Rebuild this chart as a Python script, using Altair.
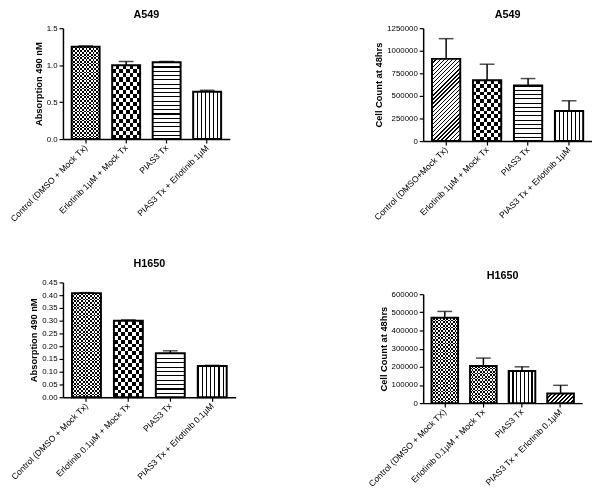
import altair as alt
import pandas as pd

# ---------------- data ----------------
a549_abs_labels = ["Control (DMSO + Mock Tx)", "Erlotinib 1µM + Mock Tx", "PIAS3 Tx", "PIAS3 Tx + Erlotinib 1µM"]
a549_abs_values = [1.25, 1.00, 1.04, 0.64]
a549_abs_errors = [0.01, 0.05, 0.01, 0.02]

a549_cnt_labels = ["Control (DMSO+Mock Tx)", "Erlotinib 1µM + Mock Tx", "PIAS3 Tx", "PIAS3 Tx + Erlotinib 1µM"]
a549_cnt_values = [910000, 674000, 616000, 334000]
a549_cnt_errors = [224000, 177000, 76000, 112000]

h1650_abs_labels = ["Control (DMSO + Mock Tx)", "Erlotinib 0.1µM + Mock Tx", "PIAS3 Tx", "PIAS3 Tx + Erlotinib 0.1µM"]
h1650_abs_values = [0.408, 0.300, 0.172, 0.122]
h1650_abs_errors = [0.002, 0.003, 0.010, 0.003]

h1650_cnt_labels = ["Control (DMSO + Mock TX)", "Erlotinib 0.1µM + Mock Tx", "PIAS3 Tx", "PIAS3 Tx + Erlotinib 0.1µM"]
h1650_cnt_values = [470000, 205000, 177000, 53000]
h1650_cnt_errors = [35000, 43000, 23000, 45000]

FONT = "Liberation Sans"
P_INNER = 0.31
P_OUTER = 0.215


def stripe_stops(n, frac, c_line, c_bg):
    stops = []
    for i in range(n):
        a = round(i / n, 5)
        b = round((i + frac) / n, 5)
        c = round((i + 1) / n, 5)
        stops += [{"offset": a, "color": c_line}, {"offset": b, "color": c_line},
                  {"offset": b, "color": c_bg}, {"offset": c, "color": c_bg}]
    return stops


def grad(stops, x2, y2):
    return {"gradient": "linear", "x1": 0, "y1": 0, "x2": x2, "y2": y2, "stops": stops}


def panel(title, ytitle, labels, values, errors, patterns, ymax, ystep, fmt, W, H, toff):
    df = pd.DataFrame({"label": labels, "value": values, "err": errors})
    df["upper"] = df["value"] + df["err"]
    step = W / (4 - P_INNER + 2 * P_OUTER)
    bw = step * (1 - P_INNER)
    xenc = alt.X("label:N", sort=labels, title=None,
                 scale=alt.Scale(paddingInner=P_INNER, paddingOuter=P_OUTER),
                 axis=alt.Axis(labelAngle=-45, labelAlign="right", labelBaseline="middle",
                               labelPadding=3, tickSize=4, labelLimit=200, labelFontSize=8.8))
    yscale = alt.Scale(domain=[0, ymax], nice=False)
    ticks = []
    v = 0.0
    while v <= ymax + 1e-9:
        ticks.append(round(v, 6))
        v += ystep
    yaxis = alt.Axis(values=ticks, format=fmt, tickSize=4, titlePadding=3,
                     labelOverlap=False, labelFlush=False, labelPadding=2)
    yenc = alt.Y("value:Q", title=ytitle, scale=yscale, axis=yaxis)
    base = alt.Chart(df).encode(x=xenc, y=yenc)
    layers = []
    for lab, val, pat in zip(labels, values, patterns):
        h = val / ymax * H
        sub = base.transform_filter(alt.datum.label == lab)
        if pat in ("checker_fine", "checker_big"):
            cell = 1.8 if pat == "checker_fine" else 4.0
            nv = max(1, round(bw / (2 * cell)))
            nh = max(1, round(h / (2 * cell)))
            layers.append(sub.mark_bar(fill=grad(stripe_stops(nv, 0.5, "black", "white"), 1, 0), strokeWidth=0))
            layers.append(sub.mark_bar(fill=grad(stripe_stops(nh, 0.5, "white", "black"), 0, 1),
                                       strokeWidth=0, blend="difference"))
        elif pat == "hstripe":
            nh = max(1, round(h / 4.3))
            layers.append(sub.mark_bar(fill=grad(stripe_stops(nh, 0.25, "black", "white"), 0, 1), strokeWidth=0))
        elif pat == "vstripe":
            nv = max(1, round(bw / 4.0))
            layers.append(sub.mark_bar(fill=grad(stripe_stops(nv, 0.28, "black", "white"), 1, 0), strokeWidth=0))
        elif pat == "diag":
            w = bw
            k = (w + h) / (w * w + h * h)
            n = max(1, round((w + h) / (1.4142 * 3.0)))
            layers.append(sub.mark_bar(fill=grad(stripe_stops(n, 0.33, "black", "white"), k * w, k * h),
                                       strokeWidth=0))
    # outline
    layers.append(base.mark_bar(fill="transparent", stroke="black", strokeWidth=2))
    # error bars
    layers.append(base.mark_rule(color="black", strokeWidth=1.5).encode(y2="upper:Q"))
    layers.append(base.mark_tick(color="black", thickness=1.5, size=15).encode(
        y=alt.Y("upper:Q", title=ytitle, scale=yscale, axis=yaxis)))
    return alt.layer(*layers).properties(
        width=W, height=H,
        title=alt.TitleParams(title, font=FONT, fontSize=11, fontWeight="bold", anchor="middle",
                              offset=toff))


p1 = panel("A549", "Absorption 490 nM", a549_abs_labels, a549_abs_values, a549_abs_errors,
           ["checker_fine", "checker_big", "hstripe", "vstripe"], 1.5, 0.5, ".1f", 170, 113, 4)
p2 = panel("A549", "Cell Count at 48hrs", a549_cnt_labels, a549_cnt_values, a549_cnt_errors,
           ["diag", "checker_big", "hstripe", "vstripe"], 1250000, 250000, "d", 172, 115, 4)
p3 = panel("H1650", "Absorption 490 nM", h1650_abs_labels, h1650_abs_values, h1650_abs_errors,
           ["checker_fine", "checker_big", "hstripe", "vstripe"], 0.45, 0.05, ".2f", 176, 117, 10)
p4 = panel("H1650", "Cell Count at 48hrs", h1650_cnt_labels, h1650_cnt_values, h1650_cnt_errors,
           ["checker_fine", "checker_fine", "vstripe", "diag"], 600000, 100000, "d", 162, 111, 9)

chart = alt.hconcat(
    alt.vconcat(p1, p3, spacing=35),
    alt.vconcat(p2, p4, spacing=49),
    spacing=133,
).configure_view(stroke=None).configure_axis(
    grid=False, domainColor="black", domainWidth=1.5, tickColor="black", tickWidth=1.2,
    labelColor="black", labelFont=FONT, labelFontSize=8, titleFont=FONT, titleFontSize=9.5,
    titleFontWeight="bold", titleColor="black",
).configure_title(color="black").properties(
    padding={"left": 0, "top": -3, "right": 0, "bottom": 0}, background="white")

chart.save("out.html", embed_options={"renderer": "svg", "actions": False})
